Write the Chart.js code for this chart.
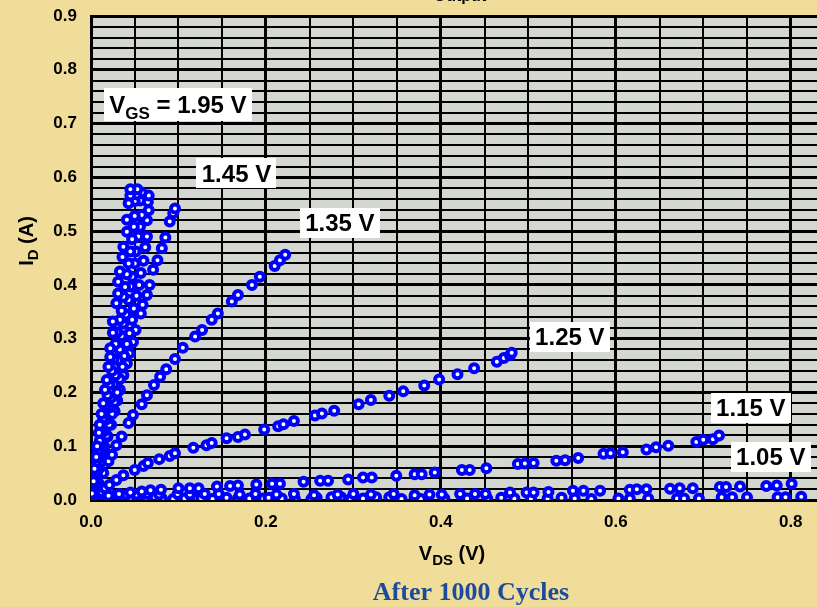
<!DOCTYPE html>
<html>
<head>
<meta charset="utf-8">
<script src="https://cdn.jsdelivr.net/npm/chart.js@4.4.1/dist/chart.umd.min.js"></script>
<style>
  html, body { margin: 0; padding: 0; background: #F1DD9A; }
  #wrap { position: relative; width: 817px; height: 607px; }
</style>
</head>
<body>
<div id="wrap"><canvas id="ivChart"></canvas></div>
<script>
// Measured I-V sweeps, [V_DS (V), I_D (A)] per gate voltage
const vgs195 = [[0.001,0.012],[0.003,0.035],[0.004,0.058],[0.006,0.08],[0.007,0.1],[0.009,0.125],[0.010,0.14],[0.012,0.16],[0.014,0.18],[0.016,0.205],[0.018,0.223],[0.020,0.248],[0.022,0.266],[0.022,0.282],[0.025,0.311],[0.025,0.332],[0.029,0.366],[0.031,0.384],[0.031,0.406],[0.033,0.425],[0.036,0.452],[0.037,0.471],[0.041,0.499],[0.041,0.521],[0.043,0.552],[0.045,0.566],[0.045,0.578]];
const vgs185 = [[0.002,0.015],[0.004,0.04],[0.006,0.065],[0.008,0.09],[0.010,0.11],[0.012,0.13],[0.014,0.152],[0.017,0.175],[0.019,0.195],[0.021,0.215],[0.024,0.24],[0.026,0.262],[0.028,0.29],[0.030,0.312],[0.033,0.335],[0.035,0.352],[0.037,0.378],[0.039,0.396],[0.041,0.42],[0.043,0.44],[0.045,0.462],[0.047,0.485],[0.049,0.508],[0.050,0.528],[0.050,0.556],[0.052,0.568],[0.053,0.578]];
const vgs175 = [[0.002,0.012],[0.005,0.035],[0.007,0.06],[0.010,0.085],[0.012,0.105],[0.015,0.128],[0.018,0.15],[0.021,0.172],[0.023,0.19],[0.026,0.215],[0.028,0.232],[0.031,0.26],[0.033,0.28],[0.035,0.305],[0.037,0.328],[0.040,0.345],[0.043,0.372],[0.045,0.397],[0.047,0.415],[0.050,0.44],[0.051,0.462],[0.054,0.49],[0.056,0.508],[0.058,0.53],[0.056,0.557],[0.058,0.572]];
const vgs155 = [[0.003,0.012],[0.006,0.035],[0.009,0.058],[0.012,0.08],[0.015,0.1],[0.018,0.12],[0.021,0.14],[0.024,0.16],[0.027,0.182],[0.030,0.2],[0.033,0.225],[0.036,0.248],[0.038,0.268],[0.041,0.29],[0.044,0.31],[0.047,0.335],[0.049,0.356],[0.052,0.38],[0.055,0.4],[0.057,0.422],[0.060,0.445],[0.062,0.47],[0.064,0.49],[0.064,0.52],[0.066,0.539],[0.065,0.554],[0.066,0.566]];
const vgs145 = [[0.003,0.02],[0.007,0.045],[0.011,0.07],[0.015,0.095],[0.019,0.118],[0.023,0.14],[0.027,0.165],[0.030,0.185],[0.033,0.205],[0.037,0.232],[0.041,0.254],[0.044,0.273],[0.048,0.294],[0.051,0.316],[0.057,0.347],[0.059,0.363],[0.064,0.381],[0.067,0.4],[0.071,0.428],[0.076,0.446],[0.081,0.468],[0.085,0.488],[0.090,0.518],[0.094,0.533],[0.096,0.542]];
const vgs135 = [[0.004,0.012],[0.009,0.03],[0.014,0.05],[0.020,0.072],[0.024,0.084],[0.029,0.102],[0.035,0.118],[0.043,0.143],[0.048,0.158],[0.058,0.178],[0.064,0.195],[0.072,0.214],[0.079,0.229],[0.086,0.243],[0.096,0.262],[0.105,0.283],[0.119,0.304],[0.127,0.316],[0.138,0.335],[0.145,0.347],[0.161,0.369],[0.168,0.381],[0.184,0.4],[0.193,0.415],[0.210,0.435],[0.216,0.446],[0.222,0.456]];
const vgs125 = [[0.002,0.003],[0.006,0.008],[0.011,0.015],[0.016,0.022],[0.021,0.028],[0.029,0.037],[0.037,0.046],[0.050,0.056],[0.060,0.063],[0.065,0.069],[0.078,0.076],[0.090,0.082],[0.096,0.087],[0.117,0.097],[0.132,0.102],[0.138,0.106],[0.155,0.115],[0.168,0.117],[0.176,0.122],[0.198,0.131],[0.214,0.137],[0.220,0.141],[0.232,0.147],[0.256,0.157],[0.264,0.161],[0.278,0.166],[0.306,0.178],[0.320,0.186],[0.341,0.194],[0.357,0.202],[0.381,0.213],[0.398,0.224],[0.419,0.234],[0.438,0.245],[0.464,0.257],[0.472,0.264],[0.479,0.269],[0.481,0.274]];
const vgs115 = [[0.003,0.002],[0.010,0.005],[0.020,0.008],[0.032,0.011],[0.045,0.014],[0.058,0.016],[0.068,0.018],[0.080,0.019],[0.100,0.022],[0.113,0.022],[0.123,0.022],[0.144,0.025],[0.159,0.026],[0.168,0.027],[0.189,0.029],[0.207,0.030],[0.216,0.030],[0.243,0.034],[0.262,0.036],[0.271,0.036],[0.294,0.038],[0.311,0.042],[0.321,0.042],[0.349,0.045],[0.370,0.048],[0.378,0.048],[0.393,0.051],[0.424,0.056],[0.433,0.056],[0.452,0.059],[0.488,0.067],[0.496,0.068],[0.506,0.069],[0.532,0.073],[0.542,0.074],[0.557,0.078],[0.586,0.086],[0.594,0.087],[0.608,0.089],[0.635,0.094],[0.646,0.098],[0.660,0.101],[0.692,0.108],[0.700,0.112],[0.711,0.113],[0.718,0.120]];
const vgs105 = [[0.004,0.004],[0.015,0.007],[0.028,0.009],[0.040,0.010],[0.052,0.010],[0.065,0.011],[0.078,0.010],[0.099,0.011],[0.113,0.010],[0.130,0.011],[0.146,0.011],[0.170,0.010],[0.188,0.011],[0.212,0.010],[0.232,0.011],[0.255,0.009],[0.282,0.010],[0.300,0.011],[0.320,0.010],[0.346,0.011],[0.370,0.009],[0.387,0.010],[0.401,0.010],[0.422,0.011],[0.439,0.011],[0.451,0.011],[0.479,0.014],[0.498,0.014],[0.506,0.014],[0.523,0.015],[0.551,0.017],[0.563,0.017],[0.582,0.017],[0.616,0.019],[0.624,0.020],[0.635,0.020],[0.662,0.021],[0.673,0.022],[0.688,0.022],[0.719,0.024],[0.726,0.024],[0.742,0.025],[0.772,0.026],[0.784,0.027],[0.801,0.030]];
const vgs095 = [[0.004,0.002],[0.013,0.003],[0.026,0.005],[0.038,0.005],[0.046,0.004],[0.053,0.002],[0.064,0.003],[0.081,0.003],[0.094,0.002],[0.107,0.003],[0.121,0.003],[0.126,0.003],[0.139,0.002],[0.155,0.004],[0.168,0.003],[0.181,0.003],[0.197,0.003],[0.203,0.004],[0.218,0.003],[0.233,0.003],[0.252,0.002],[0.258,0.004],[0.275,0.005],[0.286,0.005],[0.297,0.002],[0.311,0.003],[0.326,0.005],[0.341,0.005],[0.355,0.002],[0.370,0.005],[0.377,0.002],[0.404,0.003],[0.430,0.003],[0.453,0.003],[0.469,0.004],[0.484,0.003],[0.503,0.003],[0.522,0.003],[0.538,0.004],[0.553,0.003],[0.572,0.002],[0.603,0.003],[0.616,0.003],[0.637,0.003],[0.670,0.003],[0.678,0.003],[0.695,0.003],[0.721,0.005],[0.733,0.005],[0.750,0.005],[0.785,0.005],[0.794,0.005],[0.812,0.006]];

const seriesNames = ["1.95 V", "1.85 V", "1.75 V", "1.55 V", "1.45 V", "1.35 V", "1.25 V", "1.15 V", "1.05 V", "0.95 V"];
const seriesData = [vgs195, vgs185, vgs175, vgs155, vgs145, vgs135, vgs125, vgs115, vgs105, vgs095];

// tick labels
const xTickLabels = ["0.0", "0.2", "0.4", "0.6", "0.8"];
const yTickLabels = ["0.0", "0.1", "0.2", "0.3", "0.4", "0.5", "0.6", "0.7", "0.8", "0.9"];

// curve tags: text and centre of the white box in data units
const tagTexts = ["1.45 V", "1.35 V", "1.25 V", "1.15 V", "1.05 V"];
const tagX = [0.1663, 0.2846, 0.5474, 0.7543, 0.7771];
const tagY = [0.608, 0.516, 0.3031, 0.1711, 0.080];
const vgsTagX = 0.0994, vgsTagY = 0.7354;

const SANS = '"Liberation Sans", Arial, sans-serif';

function nearMultiple(v, step) {
  const q = v / step;
  return Math.abs(q - Math.round(q)) < 1e-6;
}

// draws text runs with subscripts, left edge x, baseline y
function runWidth(ctx, parts) {
  let w = 0;
  parts.forEach(p => { ctx.font = 'bold ' + p.size + 'px ' + SANS; w += ctx.measureText(p.text).width; });
  return w;
}
function drawRun(ctx, parts, x, y) {
  parts.forEach(p => {
    ctx.font = 'bold ' + p.size + 'px ' + SANS;
    ctx.fillText(p.text, x, y + (p.shift || 0));
    x += ctx.measureText(p.text).width;
  });
}
function drawTag(ctx, parts, cx, cy, h) {
  const w = runWidth(ctx, parts) + 11;
  ctx.fillStyle = '#FFFFFF';
  ctx.fillRect(Math.round(cx - w / 2), Math.round(cy - h / 2), Math.round(w), h);
  ctx.fillStyle = '#000000';
  ctx.textBaseline = 'alphabetic';
  ctx.textAlign = 'left';
  drawRun(ctx, parts, cx - w / 2 + 5.5, cy + 8.5);
}

const decor = {
  id: 'decor',
  beforeDraw(chart) {
    const { ctx, chartArea: a } = chart;
    ctx.save();
    ctx.fillStyle = '#D3D7CF';
    ctx.fillRect(a.left, a.top, a.right - a.left, a.bottom - a.top);
    ctx.restore();
  },
  afterDraw(chart) {
    const { ctx } = chart;
    const xs = chart.scales.x, ys = chart.scales.y;
    ctx.save();

    // VGS tag
    drawTag(ctx, [{ text: 'V', size: 24 }, { text: 'GS', size: 17, shift: 6 }, { text: ' = 1.95 V', size: 24 }],
      xs.getPixelForValue(vgsTagX), ys.getPixelForValue(vgsTagY), 33);
    tagTexts.forEach((t, i) => {
      drawTag(ctx, [{ text: t, size: 24 }], xs.getPixelForValue(tagX[i]), ys.getPixelForValue(tagY[i]), 30);
    });

    ctx.fillStyle = '#000000';
    ctx.textAlign = 'left';
    ctx.textBaseline = 'alphabetic';

    // x axis title
    const xt = [{ text: 'V', size: 20 }, { text: 'DS', size: 15, shift: 5 }, { text: ' (V)', size: 20 }];
    drawRun(ctx, xt, 452 - runWidth(ctx, xt) / 2, 560);

    // y axis title, rotated
    const yt = [{ text: 'I', size: 20 }, { text: 'D', size: 15, shift: 5 }, { text: ' (A)', size: 20 }];
    ctx.save();
    ctx.translate(33, 241);
    ctx.rotate(-Math.PI / 2);
    drawRun(ctx, yt, -runWidth(ctx, yt) / 2, 0);
    ctx.restore();

    // heading, mostly above the top edge
    ctx.textAlign = 'center';
    ctx.font = 'bold 16px ' + SANS;
    ctx.fillText('Output', 460, 1);

    // caption
    ctx.fillStyle = '#1C4B9C';
    ctx.font = 'bold 26px "Liberation Serif", "Times New Roman", serif';
    ctx.fillText('After 1000 Cycles', 471, 600);
    ctx.restore();
  }
};

const datasets = seriesData.map((pts, i) => ({
  label: seriesNames[i],
  data: pts.map(p => ({ x: p[0], y: p[1] })),
  showLine: false,
  pointStyle: 'circle',
  pointRadius: 4,
  pointBorderWidth: 4,
  pointBorderColor: '#0000FF',
  pointBackgroundColor: '#FFFFFF',
  pointHoverRadius: 4
}));

const tickFont = { family: SANS, size: 17, weight: 'bold' };

new Chart(document.getElementById('ivChart').getContext('2d'), {
  type: 'scatter',
  data: { datasets: datasets },
  options: {
    responsive: true,
    maintainAspectRatio: false,
    animation: false,
    layout: { autoPadding: false, padding: { top: 16, right: 0, bottom: 0, left: 0 } },
    plugins: { legend: { display: false }, tooltip: { enabled: false } },
    scales: {
      x: {
        type: 'linear',
        min: 0,
        max: 0.83,
        border: { display: true, color: '#000000', width: 3 },
        grid: {
          color: '#000000',
          drawTicks: false,
          lineWidth: c => (c.tick && nearMultiple(c.tick.value, 0.2)) ? 3 : 2
        },
        ticks: {
          stepSize: 0.05,
          includeBounds: false,
          autoSkip: false,
          maxRotation: 0,
          padding: 12,
          color: '#000000',
          font: tickFont,
          callback: v => nearMultiple(v, 0.2) ? (xTickLabels[Math.round(v / 0.2)] || '') : ''
        },
        afterFit: s => { s.height = 107; s.paddingLeft = 0; s.paddingRight = 0; }
      },
      y: {
        type: 'linear',
        min: 0,
        max: 0.9,
        border: { display: true, color: '#000000', width: 3 },
        grid: {
          color: '#000000',
          drawTicks: false,
          lineWidth: c => (c.tick && nearMultiple(c.tick.value, 0.1)) ? 3 : 2
        },
        ticks: {
          stepSize: 0.02,
          autoSkip: false,
          padding: 14,
          color: '#000000',
          font: tickFont,
          callback: v => nearMultiple(v, 0.1) ? (yTickLabels[Math.round(v / 0.1)] || '') : ''
        },
        afterFit: s => { s.width = 91; s.paddingTop = 0; s.paddingBottom = 0; }
      }
    }
  },
  plugins: [decor]
});
</script>
</body>
</html>
